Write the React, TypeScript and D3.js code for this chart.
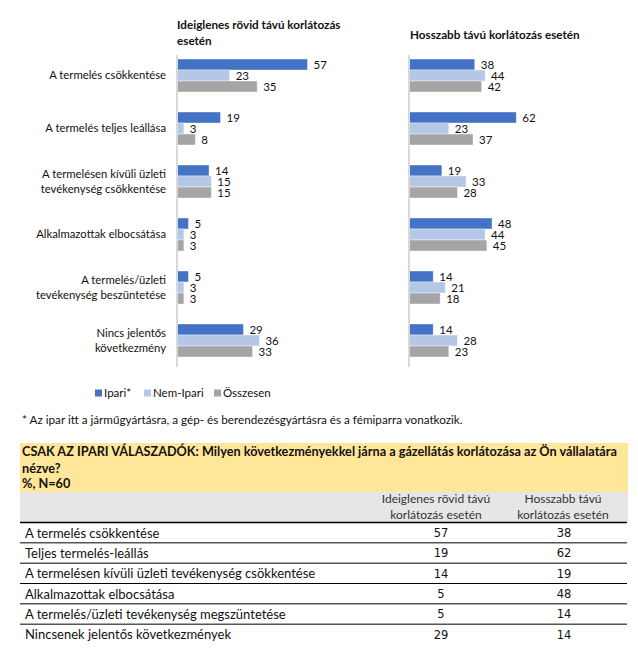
import React from "react";
import * as d3 from "d3";

const categories = [
  ["A termelés csökkentése"],
  ["A termelés teljes leállása"],
  ["A termelésen kívüli üzleti", "tevékenység csökkentése"],
  ["Alkalmazottak elbocsátása"],
  ["A termelés/üzleti", "tevékenység beszüntetése"],
  ["Nincs jelentős", "következmény"],
];
const seriesNames = ["Ipari*", "Nem-Ipari", "Összesen"];
const seriesColors = ["#4472C4", "#B4C7E7", "#A5A5A5"];

const shortIpari = [57, 19, 14, 5, 5, 29];
const shortNemIpari = [23, 3, 15, 3, 3, 36];
const shortOsszesen = [35, 8, 15, 3, 3, 33];

const longIpari = [38, 62, 19, 48, 14, 14];
const longNemIpari = [44, 23, 33, 44, 21, 28];
const longOsszesen = [42, 37, 28, 45, 18, 23];

const tableRows = [
  "A termelés csökkentése",
  "Teljes termelés-leállás",
  "A termelésen kívüli üzleti tevékenység csökkentése",
  "Alkalmazottak elbocsátása",
  "A termelés/üzleti tevékenység megszüntetése",
  "Nincsenek jelentős következmények",
];
const tableShort = [57, 19, 14, 5, 5, 29];
const tableLong = [38, 62, 19, 48, 14, 14];

const FONT = "Lato, 'Noto Sans', sans-serif";

function Panel({ x0, pxPerUnit, data }: { x0: number; pxPerUnit: number; data: number[][] }) {
  const catIdx = categories.map((_, i) => String(i));
  const y = d3.scaleBand<string>().domain(catIdx).range([59, 357]).paddingInner(20 / 53).paddingOuter(0);
  const inner = d3.scaleBand<string>().domain(seriesNames).range([0, y.bandwidth()]).padding(0);
  const x = d3.scaleLinear().domain([0, 70]).range([x0, x0 + pxPerUnit * 70]);
  return (
    <g>
      {catIdx.map((c, ci) => (
        <g key={c} transform={`translate(0,${y(c)})`}>
          {seriesNames.map((s, si) => {
            const v = data[si][ci];
            const by = inner(s)!;
            return (
              <g key={s}>
                <rect x={x(0)} y={by} width={x(v) - x(0)} height={inner.bandwidth()} fill={seriesColors[si]} stroke="#ffffff" strokeOpacity={0.5} strokeWidth={0.8} />
                <text x={x(v) + 6} y={by + inner.bandwidth() / 2} dy="0.36em" fontSize={11.5} fontFamily={FONT} fill="#111">{v}</text>
              </g>
            );
          })}
        </g>
      ))}
      <line x1={x0} x2={x0} y1={55} y2={367} stroke="#D9D9D9" strokeWidth={2} />
    </g>
  );
}

export default function App() {
  const catIdx = categories.map((_, i) => String(i));
  const y = d3.scaleBand<string>().domain(catIdx).range([59, 357]).paddingInner(20 / 53).paddingOuter(0);
  const rowY = d3.scaleLinear().domain([0, 6]).range([522.5, 644.5]);
  const legendX = [95, 144, 214];
  return (
    <svg width={638} height={658} style={{ position: "absolute", left: 0, top: 0, background: "#fff" }}>
      {/* panel titles */}
      <text x={177} y={25} dy="0.35em" fontSize={11.7} fontWeight="bold" fontFamily={FONT} fill="#111">Ideiglenes rövid távú korlátozás</text>
      <text x={177} y={41} dy="0.35em" fontSize={11.7} fontWeight="bold" fontFamily={FONT} fill="#111">esetén</text>
      <text x={410} y={35} dy="0.35em" fontSize={11.7} fontWeight="bold" fontFamily={FONT} fill="#111">Hosszabb távú korlátozás esetén</text>

      {/* category labels */}
      {categories.map((lines, i) => {
        const cy = y(String(i))! + y.bandwidth() / 2;
        return lines.map((l, li) => (
          <text key={i + "-" + li} x={166} y={cy + (li - (lines.length - 1) / 2) * 15} dy="0.35em" textAnchor="end" fontSize={11.3} fontFamily={FONT} fill="#111">{l}</text>
        ));
      })}

      <Panel x0={177} pxPerUnit={2.29} data={[shortIpari, shortNemIpari, shortOsszesen]} />
      <Panel x0={409} pxPerUnit={1.73} data={[longIpari, longNemIpari, longOsszesen]} />

      {/* legend */}
      {seriesNames.map((s, i) => (
        <g key={s}>
          <rect x={legendX[i]} y={389.5} width={7} height={7} fill={seriesColors[i]} />
          <text x={legendX[i] + 9} y={393} dy="0.35em" fontSize={11.5} fontFamily={FONT} fill="#111">{s}</text>
        </g>
      ))}

      {/* footnote */}
      <text x={22} y={420} dy="0.35em" fontSize={11.7} fontFamily={FONT} fill="#111">* Az ipar itt a járműgyártásra, a gép- és berendezésgyártásra és a fémiparra vonatkozik.</text>

      {/* table header */}
      <rect x={20} y={443} width={608} height={49} fill="#FFE699" />
      <text x={22} y={452} dy="0.35em" fontSize={12.7} fontWeight="bold" fontFamily={FONT} fill="#111">CSAK AZ IPARI VÁLASZADÓK: Milyen következményekkel járna a gázellátás korlátozása az Ön vállalatára</text>
      <text x={22} y={468.5} dy="0.35em" fontSize={12.7} fontWeight="bold" fontFamily={FONT} fill="#111">nézve?</text>
      <text x={22} y={484} dy="0.35em" fontSize={12.7} fontWeight="bold" fontFamily={FONT} fill="#111">%, N=60</text>
      <rect x={20} y={492} width={608} height={30} fill="#E7E6E6" />
      <text x={436} y={499} dy="0.35em" textAnchor="middle" fontSize={12} fontFamily={FONT} fill="#333">Ideiglenes rövid távú</text>
      <text x={436} y={515} dy="0.35em" textAnchor="middle" fontSize={12} fontFamily={FONT} fill="#333">korlátozás esetén</text>
      <text x={563} y={499} dy="0.35em" textAnchor="middle" fontSize={12} fontFamily={FONT} fill="#333">Hosszabb távú</text>
      <text x={563} y={515} dy="0.35em" textAnchor="middle" fontSize={12} fontFamily={FONT} fill="#333">korlátozás esetén</text>

      {tableRows.map((r, i) => (
        <g key={r}>
          <line x1={20} x2={627} y1={rowY(i)} y2={rowY(i)} stroke="#000" strokeWidth={i === 0 ? 1.5 : 1} />
          <text x={25} y={rowY(i) + 10.5} dy="0.35em" fontSize={13} fontFamily={FONT} fill="#111">{r}</text>
          <text x={441} y={rowY(i) + 10.5} dy="0.35em" textAnchor="middle" fontSize={11.5} fontFamily="'DejaVu Sans', sans-serif" fill="#111">{tableShort[i]}</text>
          <text x={564} y={rowY(i) + 10.5} dy="0.35em" textAnchor="middle" fontSize={11.5} fontFamily="'DejaVu Sans', sans-serif" fill="#111">{tableLong[i]}</text>
        </g>
      ))}
    </svg>
  );
}
